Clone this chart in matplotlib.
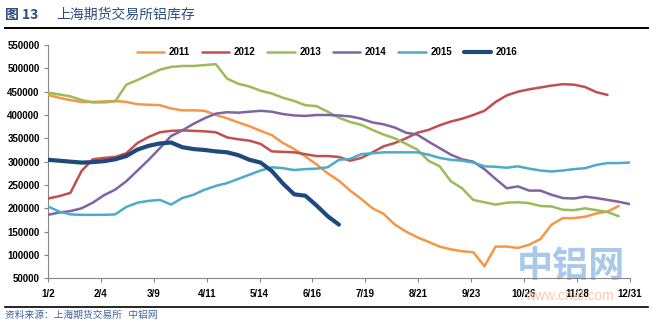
import numpy as np
import matplotlib
matplotlib.use("Agg")
import matplotlib.pyplot as plt
from matplotlib.lines import Line2D

plt.rcParams['font.family'] = ['Liberation Sans', 'Noto Sans CJK SC', 'DejaVu Sans']

# weekly SHFE aluminium stocks (thousand tonnes), week 0 = Jan 2
y2011 = [443, 437, 432, 428, 428, 429, 430, 428, 423, 422, 421, 414, 410, 410, 409, 400,
         393, 384, 376, 366, 357, 340, 327, 311, 294, 275, 259, 238, 220, 200, 188, 165,
         150, 138, 128, 118, 112, 108, 106, 76, 118, 118, 115, 122, 134, 165, 179, 179,
         182, 189, 193, 205]
y2012 = [221, 226, 233, 280, 305, 308, 310, 318, 340, 353, 363, 366, 367, 366, 365, 363,
         352, 348, 345, 338, 322, 321, 320, 316, 312, 312, 310, 302, 308, 320, 333, 340,
         350, 362, 368, 378, 386, 392, 400, 409, 428, 442, 450, 455, 459, 463, 466, 465,
         460, 449, 443]
y2013 = [448, 444, 440, 432, 427, 427, 429, 465, 475, 486, 497, 503, 505, 505, 507, 509,
         478, 467, 461, 452, 446, 437, 430, 421, 419, 407, 394, 385, 379, 368, 358, 350,
         338, 326, 302, 290, 258, 243, 218, 213, 208, 212, 213, 211, 205, 204, 197, 196,
         200, 196, 192, 183]
y2014 = [186, 191, 194, 200, 212, 228, 240, 258, 281, 304, 329, 355, 367, 381, 393, 403,
         406, 405, 407, 409, 407, 402, 399, 398, 400, 400, 399, 397, 392, 384, 380, 373,
         362, 358, 343, 329, 315, 305, 300, 284, 263, 243, 247, 238, 238, 229, 222, 221,
         225, 222, 218, 214, 209]
y2015 = [204, 193, 187, 186, 186, 186, 187, 203, 212, 216, 218, 208, 222, 229, 240, 248,
         254, 263, 272, 281, 288, 286, 282, 284, 285, 288, 304, 306, 316, 318, 320, 320,
         320, 320, 315, 308, 304, 302, 298, 290, 289, 287, 290, 285, 281, 279, 281, 284,
         286, 293, 297, 297, 298]
y2016 = [304, 302, 300, 298, 299, 301, 305, 312, 326, 334, 339, 341, 331, 327, 325, 322,
         320, 314, 304, 298, 280, 253, 230, 227, 206, 183, 165]

years = ["2011", "2012", "2013", "2014", "2015", "2016"]
colors = ["#F79646", "#C0504D", "#9BBB59", "#8064A2", "#4BACC6", "#1F497D"]
tick_labels = ["1/2", "2/4", "3/9", "4/11", "5/14", "6/16", "7/19", "8/21",
               "9/23", "10/26", "11/28", "12/31"]

fig = plt.figure(figsize=(6.52, 3.25), dpi=100)
ax = fig.add_axes([0.0736, 0.1437, 0.8925, 0.7178])

# watermark behind the lines
ax.text(0.899, 0.05, "中铝网", transform=ax.transAxes, ha="center", va="center",
        fontsize=26, fontweight="bold", color="#A9C9EA", family=["Noto Sans CJK SC"],
        zorder=0)

series = [y2011, y2012, y2013, y2014, y2015, y2016]
for name, vals, c in zip(years, series, colors):
    x = np.arange(len(vals)) * 7
    lw = 3.0 if name == "2016" else 1.8
    ax.plot(x, np.array(vals) * 1000, color=c, lw=lw, label=name,
            solid_capstyle="round", solid_joinstyle="round", zorder=3)

ax.set_xlim(0, 364)
ax.set_ylim(50000, 550000)
ax.set_yticks(np.arange(50000, 550001, 50000))
ax.set_xticks(np.linspace(0, 364, 12))
ax.set_xticklabels(tick_labels)
for lab in ax.get_xticklabels() + ax.get_yticklabels():
    lab.set_fontweight("bold")
    lab.set_fontsize(7)
ax.tick_params(axis="both", direction="out", length=3, width=0.8, color="#868686")
ax.tick_params(axis="x", pad=5)
ax.tick_params(axis="y", pad=3)
for s in ["top", "right"]:
    ax.spines[s].set_visible(False)
for s in ["left", "bottom"]:
    ax.spines[s].set_color("#868686")
    ax.spines[s].set_linewidth(0.8)

fig.text(0.873, 0.088, "www.cnal.com", ha="center", va="center", fontsize=10,
         color="#F8CBAD", zorder=0)

leg = fig.legend(loc="center", bbox_to_anchor=(0.502, 0.84), ncol=6, frameon=False,
                 prop={"weight": "bold", "size": 7}, handlelength=2.8,
                 handletextpad=0.5, columnspacing=1.2)

# title and frame lines
fig.text(0.008, 0.955, "图 13", fontsize=10, color="#2C4D7E", va="center",
         fontweight="bold", family=["Noto Sans CJK SC"])
fig.text(0.087, 0.955, "上海期货交易所铝库存", fontsize=10, color="#2C4D7E", va="center",
         family=["Noto Sans CJK SC"])
fig.add_artist(Line2D([0.008, 0.994], [1 - 28 / 325, 1 - 28 / 325], color="black", lw=1.4))
fig.add_artist(Line2D([0.008, 0.994], [1 - 307 / 325, 1 - 307 / 325], color="black", lw=1.2))
fig.text(0.008, 1 - 315 / 325, "资料来源：上海期货交易所   中铝网", fontsize=7,
         color="#3F62A0", va="center", family=["Noto Sans CJK SC"])

fig.savefig("out.png", dpi=100)
